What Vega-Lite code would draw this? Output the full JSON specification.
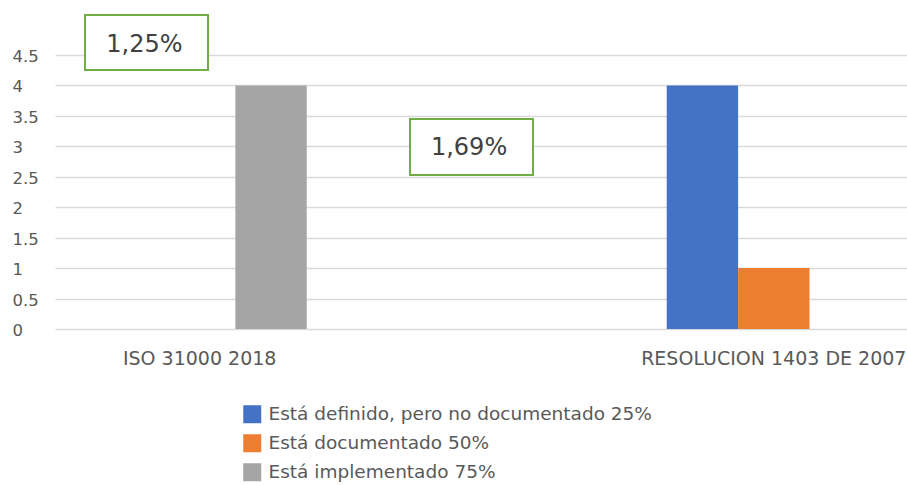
{
  "$schema": "https://vega.github.io/schema/vega-lite/v6.json",
  "width": 852,
  "height": 274,
  "autosize": {"type": "none"},
  "padding": {"left": 55, "top": 55, "right": 0, "bottom": 156},
  "background": "white",
  "config": {
    "view": {"stroke": null},
    "font": "DejaVu Sans",
    "axis": {"labelFont": "DejaVu Sans", "labelColor": "#595959"},
    "legend": {"labelFont": "DejaVu Sans"}
  },
  "datasets": {
    "bars": [
      {"norma": "ISO 31000 2018", "estado": "Está definido,  pero no documentado  25%", "valor": 0},
      {"norma": "ISO 31000 2018", "estado": "Está documentado 50%", "valor": 0},
      {"norma": "ISO 31000 2018", "estado": "Está implementado 75%", "valor": 4},
      {"norma": "RESOLUCION 1403 DE 2007", "estado": "Está definido,  pero no documentado  25%", "valor": 4},
      {"norma": "RESOLUCION 1403 DE 2007", "estado": "Está documentado 50%", "valor": 1},
      {"norma": "RESOLUCION 1403 DE 2007", "estado": "Está implementado 75%", "valor": 0}
    ],
    "notes": [
      {"texto": "1,25%", "x1": 0.0352, "x2": 0.1796, "y1": 5.157, "y2": 4.254, "tx": 0.105, "ty": 4.66},
      {"texto": "1,69%", "x1": 0.4167, "x2": 0.561, "y1": 3.449, "y2": 2.529, "tx": 0.486, "ty": 2.97}
    ]
  },
  "layer": [
    {
      "data": {"name": "bars"},
      "mark": {"type": "bar"},
      "encoding": {
        "x": {
          "field": "norma", "type": "nominal", "sort": null,
          "scale": {"paddingInner": 0.627, "paddingOuter": 0.0555, "align": 0.59},
          "axis": {"title": null, "labelAngle": 0, "ticks": false, "tickSize": 0, "domain": false, "labelPadding": 20, "labelFontSize": 19, "labelColor": "#595959", "grid": false, "labelLimit": 500}
        },
        "xOffset": {
          "field": "estado", "type": "nominal",
          "sort": ["Está definido,  pero no documentado  25%", "Está documentado 50%", "Está implementado 75%"],
          "scale": {"paddingInner": 0, "paddingOuter": 0}
        },
        "y": {
          "field": "valor", "type": "quantitative",
          "scale": {"domain": [0, 4.5], "nice": false},
          "axis": {
            "title": null, "values": [0, 0.5, 1, 1.5, 2, 2.5, 3, 3.5, 4, 4.5], "format": "~f",
            "ticks": false, "tickSize": 0, "domain": false, "labelAlign": "left", "labelPadding": 43,
            "labelFontSize": 16.5, "labelColor": "#595959", "labelOverlap": false, "labelOffset": 1.5,
            "grid": true, "gridColor": "#d9d9d9", "gridWidth": 1.5
          }
        },
        "color": {
          "field": "estado", "type": "nominal",
          "scale": {
            "domain": ["Está definido,  pero no documentado  25%", "Está documentado 50%", "Está implementado 75%"],
            "range": ["#4472c4", "#ed7d31", "#a5a5a5"]
          },
          "legend": {
            "title": null, "orient": "none", "legendX": 188, "legendY": 350, "direction": "vertical",
            "symbolType": "square", "symbolSize": 324, "symbolStrokeWidth": 0, "symbolOpacity": 1,
            "labelFontSize": 18.5, "labelColor": "#595959", "labelOffset": 7, "rowPadding": 10, "padding": 0,
            "labelLimit": 600
          }
        }
      }
    },
    {
      "data": {"name": "notes"},
      "mark": {"type": "rect", "fill": "white", "stroke": "#70ad47", "strokeWidth": 2},
      "encoding": {
        "x": {"field": "x1", "type": "quantitative", "scale": {"domain": [0, 1], "nice": false}, "axis": null},
        "x2": {"field": "x2"},
        "y": {"field": "y1", "type": "quantitative", "scale": {"domain": [0, 4.5], "nice": false}, "axis": null},
        "y2": {"field": "y2"}
      }
    },
    {
      "data": {"name": "notes"},
      "mark": {"type": "text", "fontSize": 24, "color": "#404040", "baseline": "middle", "align": "center", "font": "DejaVu Sans"},
      "encoding": {
        "x": {"field": "tx", "type": "quantitative", "scale": {"domain": [0, 1], "nice": false}, "axis": null},
        "y": {"field": "ty", "type": "quantitative", "scale": {"domain": [0, 4.5], "nice": false}, "axis": null},
        "text": {"field": "texto"}
      }
    }
  ],
  "resolve": {"scale": {"x": "independent"}, "axis": {"x": "independent", "y": "independent"}}
}
